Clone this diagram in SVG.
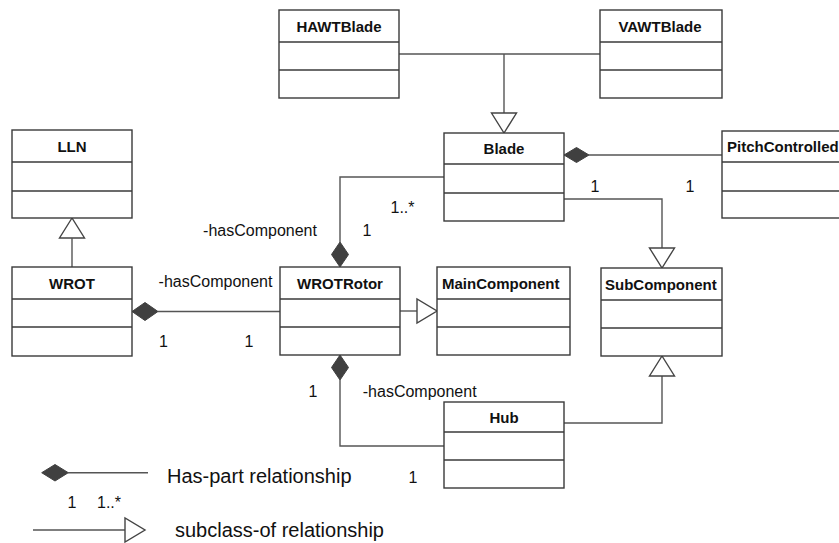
<svg xmlns="http://www.w3.org/2000/svg" width="839" height="543" viewBox="0 0 839 543">
<style>
.box{fill:#fff;stroke:#3a3a3a;stroke-width:1.4}
.sep{stroke:#3a3a3a;stroke-width:1.4}
.hdr{font-family:"Liberation Sans",Arial,sans-serif;font-weight:bold;font-size:15px;fill:#111}
.lbl{font-family:"Liberation Sans",Arial,sans-serif;font-size:16px;fill:#111}
.leg{font-family:"Liberation Sans",Arial,sans-serif;font-size:20px;fill:#111}
.ln{fill:none;stroke:#555;stroke-width:1.4}
.dia{fill:#404040;stroke:#404040;stroke-width:1}
.tri{fill:#fff;stroke:#444;stroke-width:1.4}
</style>
<rect width="839" height="543" fill="#fff"/>
<g id="connectors">
  <polyline class="ln" points="399,54 600,54"/>
  <polyline class="ln" points="504,54 504,113"/>
  <polygon class="tri" points="491.5,113 516.5,113 504,133"/>
  <polygon class="dia" points="564,155 576.5,147.5 589,155 576.5,162.5"/>
  <polyline class="ln" points="589,155 722,155"/>
  <polyline class="ln" points="444,177 340,177 340,242"/>
  <polygon class="dia" points="340,242 348.5,254.5 340,267 331.5,254.5"/>
  <polyline class="ln" points="564,199 662,199 662,248"/>
  <polygon class="tri" points="649.5,248 674.5,248 662,268"/>
  <polygon class="tri" points="72,218 59.5,238 84.5,238"/>
  <polyline class="ln" points="72,238 72,267"/>
  <polygon class="dia" points="132,311.5 145,302.5 158,311.5 145,320.5"/>
  <polyline class="ln" points="158,311.5 280,311.5"/>
  <polyline class="ln" points="400,311 417,311"/>
  <polygon class="tri" points="417,299 417,323 437,311"/>
  <polygon class="dia" points="340,355 348.5,367.5 340,380 331.5,367.5"/>
  <polyline class="ln" points="340,380 340,446 444,446"/>
  <polyline class="ln" points="564,423 662,423 662,376"/>
  <polygon class="tri" points="649.5,376 674.5,376 662,356"/>
</g>
<g id="labels">
  <text class="lbl" x="260" y="236" text-anchor="middle">-hasComponent</text>
  <text class="lbl" x="367" y="236" text-anchor="middle">1</text>
  <text class="lbl" x="402.5" y="213" text-anchor="middle">1..*</text>
  <text class="lbl" x="595" y="192" text-anchor="middle">1</text>
  <text class="lbl" x="690" y="192" text-anchor="middle">1</text>
  <text class="lbl" x="215.5" y="287" text-anchor="middle">-hasComponent</text>
  <text class="lbl" x="163.5" y="347" text-anchor="middle">1</text>
  <text class="lbl" x="249" y="347" text-anchor="middle">1</text>
  <text class="lbl" x="313" y="397" text-anchor="middle">1</text>
  <text class="lbl" x="419.7" y="397" text-anchor="middle">-hasComponent</text>
  <text class="lbl" x="413" y="483" text-anchor="middle">1</text>
</g>
<g id="HAWTBlade">
  <rect class="box" x="279" y="10" width="120" height="88"/>
  <line class="sep" x1="279" y1="42" x2="399" y2="42"/>
  <line class="sep" x1="279" y1="70" x2="399" y2="70"/>
  <text class="hdr" x="339" y="31.5" text-anchor="middle">HAWTBlade</text>
</g>
<g id="VAWTBlade">
  <rect class="box" x="600" y="10" width="122" height="88"/>
  <line class="sep" x1="600" y1="42" x2="722" y2="42"/>
  <line class="sep" x1="600" y1="70" x2="722" y2="70"/>
  <text class="hdr" x="660" y="31.5" text-anchor="middle">VAWTBlade</text>
</g>
<g id="Blade">
  <rect class="box" x="444" y="133" width="120" height="88"/>
  <line class="sep" x1="444" y1="164" x2="564" y2="164"/>
  <line class="sep" x1="444" y1="193" x2="564" y2="193"/>
  <text class="hdr" x="504" y="154" text-anchor="middle">Blade</text>
</g>
<g id="PitchControlled">
  <rect class="box" x="722" y="131" width="122" height="87"/>
  <line class="sep" x1="722" y1="162" x2="844" y2="162"/>
  <line class="sep" x1="722" y1="191" x2="844" y2="191"/>
  <text class="hdr" x="727" y="152">PitchControlled</text>
</g>
<g id="LLN">
  <rect class="box" x="12" y="130" width="120" height="88"/>
  <line class="sep" x1="12" y1="162" x2="132" y2="162"/>
  <line class="sep" x1="12" y1="191" x2="132" y2="191"/>
  <text class="hdr" x="72" y="151.5" text-anchor="middle">LLN</text>
</g>
<g id="WROT">
  <rect class="box" x="12" y="267" width="120" height="89"/>
  <line class="sep" x1="12" y1="299" x2="132" y2="299"/>
  <line class="sep" x1="12" y1="327" x2="132" y2="327"/>
  <text class="hdr" x="72" y="288.5" text-anchor="middle">WROT</text>
</g>
<g id="WROTRotor">
  <rect class="box" x="280" y="267" width="120" height="88"/>
  <line class="sep" x1="280" y1="299" x2="400" y2="299"/>
  <line class="sep" x1="280" y1="327" x2="400" y2="327"/>
  <text class="hdr" x="340" y="288.5" text-anchor="middle">WROTRotor</text>
</g>
<g id="MainComponent">
  <rect class="box" x="437" y="267" width="133" height="88"/>
  <line class="sep" x1="437" y1="299" x2="570" y2="299"/>
  <line class="sep" x1="437" y1="327" x2="570" y2="327"/>
  <text class="hdr" x="442" y="288.5">MainComponent</text>
</g>
<g id="SubComponent">
  <rect class="box" x="601" y="268" width="121" height="88"/>
  <line class="sep" x1="601" y1="300" x2="722" y2="300"/>
  <line class="sep" x1="601" y1="328" x2="722" y2="328"/>
  <text class="hdr" x="605" y="289.5">SubComponent</text>
</g>
<g id="Hub">
  <rect class="box" x="444" y="402" width="120" height="86"/>
  <line class="sep" x1="444" y1="432" x2="564" y2="432"/>
  <line class="sep" x1="444" y1="460" x2="564" y2="460"/>
  <text class="hdr" x="504" y="422.5" text-anchor="middle">Hub</text>
</g>
<g id="legend">
  <polygon class="dia" points="41.7,472.7 55,464.5 68.3,472.7 55,481"/>
  <line class="ln" x1="68" y1="472.7" x2="148" y2="472.7"/>
  <text class="leg" x="167" y="483">Has-part relationship</text>
  <text class="lbl" x="72" y="508" text-anchor="middle">1</text>
  <text class="lbl" x="97" y="508">1..*</text>
  <line class="ln" x1="33" y1="530" x2="125" y2="530"/>
  <polygon class="tri" points="125,518 125,542 145,530"/>
  <text class="leg" x="175" y="537">subclass-of relationship</text>
</g>
</svg>
